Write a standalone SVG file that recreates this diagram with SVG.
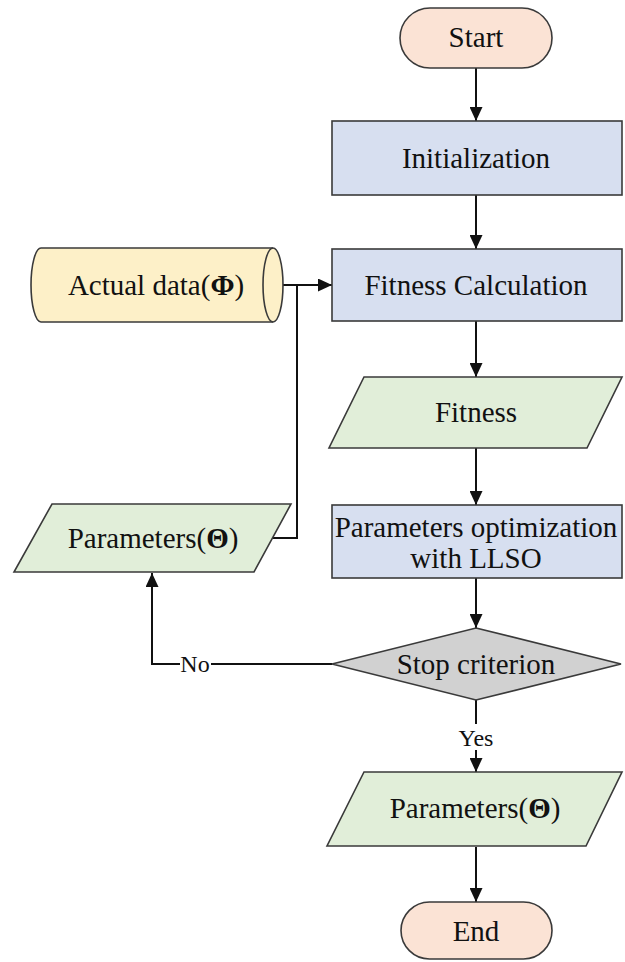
<svg xmlns="http://www.w3.org/2000/svg" width="625" height="962" viewBox="0 0 625 962">
<style>
.s{stroke:#3a3a3a;stroke-width:1.6}
.t{font-family:"Liberation Serif","Times New Roman",serif;font-size:29px;fill:#111;text-anchor:middle}
.lbl{font-family:"Liberation Serif","Times New Roman",serif;font-size:24px;fill:#111;text-anchor:middle}
.term{fill:#fbe3d5}
.proc{fill:#d7dff0}
.io{fill:#e1eed9}
.db{fill:#fdf0c8}
.dec{fill:#d1d1d1}
.c{fill:none;stroke:#111;stroke-width:2}
</style>
<defs>
<marker id="ah" viewBox="0 0 14 13" refX="14" refY="6.5" markerWidth="14" markerHeight="13" markerUnits="userSpaceOnUse" orient="auto">
<path d="M0,0 L14,6.5 L0,13 Z" fill="#111"/>
</marker>
</defs>
<g id="connectors">
<line class="c" x1="476" y1="68" x2="476" y2="121" marker-end="url(#ah)"/>
<line class="c" x1="476" y1="195" x2="476" y2="249" marker-end="url(#ah)"/>
<line class="c" x1="273" y1="285" x2="332" y2="285" marker-end="url(#ah)"/>
<polyline class="c" points="273,538 297,538 297,285"/>
<line class="c" x1="476" y1="321" x2="476" y2="377" marker-end="url(#ah)"/>
<line class="c" x1="476" y1="448" x2="476" y2="505" marker-end="url(#ah)"/>
<line class="c" x1="476" y1="578" x2="476" y2="628" marker-end="url(#ah)"/>
<polyline class="c" points="332,664 152,664 152,573" marker-end="url(#ah)"/>
<rect x="180" y="650" width="31" height="28" fill="#fff"/>
<text class="lbl" x="195" y="672">No</text>
<line class="c" x1="476" y1="700" x2="476" y2="772" marker-end="url(#ah)"/>
<rect x="455" y="724" width="42" height="26" fill="#fff"/>
<text class="lbl" x="476" y="746">Yes</text>
<line class="c" x1="476" y1="847" x2="476" y2="902" marker-end="url(#ah)"/>
</g>
<g id="start">
<rect class="term s" x="400" y="8" width="152" height="60" rx="30"/>
<text class="t" x="476" y="47">Start</text>
</g>
<g id="initialization">
<rect class="proc s" x="332" y="121" width="290" height="74"/>
<text class="t" x="476" y="168">Initialization</text>
</g>
<g id="actual-data">
<path class="db s" d="M41,248 L273,248 A10,37 0 0 1 273,322 L41,322 A10,37 0 0 1 41,248 Z"/>
<path class="s" fill="none" d="M273,248 A10,37 0 0 0 273,322"/>
<text class="t" x="156" y="295">Actual data(<tspan font-weight="bold">Φ</tspan>)</text>
</g>
<g id="fitness-calculation">
<rect class="proc s" x="332" y="249" width="290" height="72"/>
<text class="t" x="476" y="295">Fitness Calculation</text>
</g>
<g id="fitness">
<polygon class="io s" points="364,377 622,377 587,448 329,448"/>
<text class="t" x="476" y="422">Fitness</text>
</g>
<g id="parameters-optimization">
<rect class="proc s" x="332" y="505" width="290" height="73"/>
<text class="t" x="476" y="537" font-size="28.5">Parameters optimization</text>
<text class="t" x="476" y="568">with LLSO</text>
</g>
<g id="parameters-left">
<polygon class="io s" points="52,504 291,504 254,572 14,572"/>
<text class="t" x="153" y="548">Parameters(<tspan font-weight="bold">Θ</tspan>)</text>
</g>
<g id="stop-criterion">
<polygon class="dec s" points="476,628 621,664 476,700 332,664"/>
<text class="t" x="476" y="674">Stop criterion</text>
</g>
<g id="parameters-output">
<polygon class="io s" points="364,772 622,772 586,846 327,846"/>
<text class="t" x="475" y="818">Parameters(<tspan font-weight="bold">Θ</tspan>)</text>
</g>
<g id="end">
<rect class="term s" x="401" y="902" width="151" height="57" rx="28.5"/>
<text class="t" x="476" y="941">End</text>
</g>
</svg>
